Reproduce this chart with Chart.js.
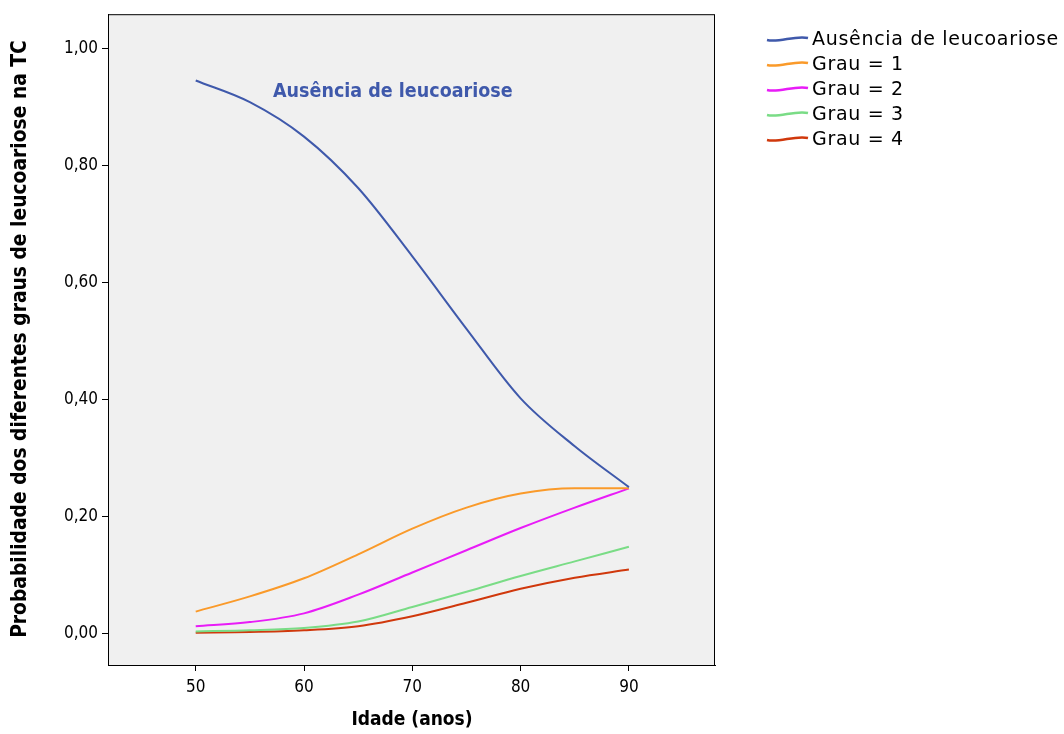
<!DOCTYPE html>
<html>
<head>
<meta charset="utf-8">
<script src="https://cdn.jsdelivr.net/npm/chart.js@4.4.1/dist/chart.umd.min.js"></script>
<style>
  html, body { margin: 0; padding: 0; background: #ffffff; }
  #wrap { width: 1064px; height: 734px; position: relative; }
</style>
</head>
<body>
<div id="wrap"><canvas id="probChart" width="1064" height="734"></canvas></div>
<script>
// Chart data
const ages = [50, 55, 60, 65, 70, 75, 80, 85, 90];
const ausencia = [0.946, 0.909, 0.850, 0.762, 0.645, 0.521, 0.402, 0.320, 0.250];
const grau1 = [0.037, 0.063, 0.094, 0.135, 0.179, 0.215, 0.239, 0.248, 0.248];
const grau2 = [0.012, 0.019, 0.034, 0.066, 0.104, 0.142, 0.180, 0.215, 0.248];
const grau3 = [0.003, 0.005, 0.009, 0.020, 0.045, 0.071, 0.098, 0.123, 0.148];
const grau4 = [0.001, 0.002, 0.005, 0.012, 0.029, 0.052, 0.076, 0.095, 0.109];

const seriesNames = ['Ausência de leucoariose', 'Grau = 1', 'Grau = 2', 'Grau = 3', 'Grau = 4'];
const seriesColors = ['#3f59ab', '#fa9a2a', '#e81cf7', '#7adc86', '#d0380c'];

const xTicks = [50, 60, 70, 80, 90];
const yTicks = [0, 0.2, 0.4, 0.6, 0.8, 1.0];

const xTitle = 'Idade (anos)';
const yTitle = 'Probabilidade dos diferentes graus de leucoariose na TC';

// in-plot label for the first series
const annText = 'Ausência de leucoariose';
const annX = 68.2;
const annY = 0.927;

const condensed = '"DejaVu Sans Condensed", "DejaVu Sans", sans-serif';
const wide = '"DejaVu Sans", Verdana, sans-serif';

function toPoints(values) {
    return values.map((v, i) => ({ x: ages[i], y: v }));
}

const allSeries = [ausencia, grau1, grau2, grau3, grau4];

// plot background + full frame
const framePlugin = {
    id: 'frame',
    beforeDraw(chart) {
        const { ctx, chartArea: a } = chart;
        ctx.save();
        ctx.fillStyle = '#f0f0f0';
        ctx.fillRect(a.left, a.top, a.right - a.left, a.bottom - a.top);
        ctx.restore();
    },
    afterDraw(chart) {
        const { ctx, chartArea: a } = chart;
        ctx.save();
        ctx.strokeStyle = '#000000';
        ctx.lineWidth = 1;
        ctx.strokeRect(a.left + 0.5, a.top + 0.5, a.right - a.left - 1, a.bottom - a.top);
        ctx.restore();
    }
};

// axis titles, annotation and the wavy legend
const textPlugin = {
    id: 'texts',
    afterDraw(chart) {
        const { ctx, scales } = chart;
        ctx.save();
        ctx.fillStyle = '#000000';
        ctx.textAlign = 'center';
        ctx.textBaseline = 'middle';

        ctx.font = 'bold 19px ' + condensed;
        ctx.fillText(xTitle, 412, 720);

        ctx.save();
        ctx.translate(21, 339);
        ctx.rotate(-Math.PI / 2);
        ctx.font = 'bold 20.8px ' + condensed;
        ctx.fillText(yTitle, 0, 0);
        ctx.restore();

        // annotation
        ctx.fillStyle = seriesColors[0];
        ctx.font = 'bold 19.5px ' + condensed;
        ctx.fillText(annText, scales.x.getPixelForValue(annX), scales.y.getPixelForValue(annY));

        // legend
        ctx.textAlign = 'left';
        ctx.font = '19px ' + wide;
        ctx.letterSpacing = '0.7px';
        chart.data.datasets.forEach((ds, i) => {
            const cy = 39 + i * 25;
            ctx.strokeStyle = ds.borderColor;
            ctx.lineWidth = 2.5;
            ctx.beginPath();
            ctx.moveTo(767, cy + 1);
            ctx.bezierCurveTo(779, cy + 4, 795, cy - 4, 808, cy - 1);
            ctx.stroke();
            ctx.fillStyle = '#000000';
            ctx.fillText(ds.label, 812, cy + 1);
        });
        ctx.restore();
    }
};

const ctx = document.getElementById('probChart').getContext('2d');

const probChart = new Chart(ctx, {
    type: 'line',
    data: {
        datasets: allSeries.map((vals, i) => ({
            label: seriesNames[i],
            data: toPoints(vals),
            borderColor: seriesColors[i],
            backgroundColor: seriesColors[i],
            borderWidth: 2,
            pointRadius: 0,
            cubicInterpolationMode: 'monotone',
            fill: false
        }))
    },
    options: {
        responsive: false,
        animation: false,
        layout: { padding: { top: 10, right: 349, left: 0, bottom: 0 } },
        plugins: {
            legend: { display: false },
            tooltip: { enabled: false }
        },
        scales: {
            x: {
                type: 'linear',
                min: 41.9,
                max: 97.95,
                afterBuildTicks: (scale) => { scale.ticks = xTicks.map(v => ({ value: v })); },
                afterFit: (scale) => { scale.height = 69; },
                grid: { drawOnChartArea: false, tickLength: 6, tickColor: '#000000' },
                border: { display: true, color: '#000000' },
                ticks: {
                    color: '#000000',
                    font: { family: condensed, size: 17 },
                    padding: 6,
                    maxRotation: 0
                }
            },
            y: {
                type: 'linear',
                min: -0.0544,
                max: 1.0595,
                afterBuildTicks: (scale) => { scale.ticks = yTicks.map(v => ({ value: v })); },
                afterFit: (scale) => { scale.width = 108; },
                grid: { drawOnChartArea: false, tickLength: 6, tickColor: '#000000' },
                border: { display: true, color: '#000000' },
                ticks: {
                    color: '#000000',
                    font: { family: condensed, size: 17 },
                    padding: 4,
                    callback: (v) => v.toFixed(2).replace('.', ',')
                }
            }
        }
    },
    plugins: [framePlugin, textPlugin]
});
</script>
</body>
</html>
